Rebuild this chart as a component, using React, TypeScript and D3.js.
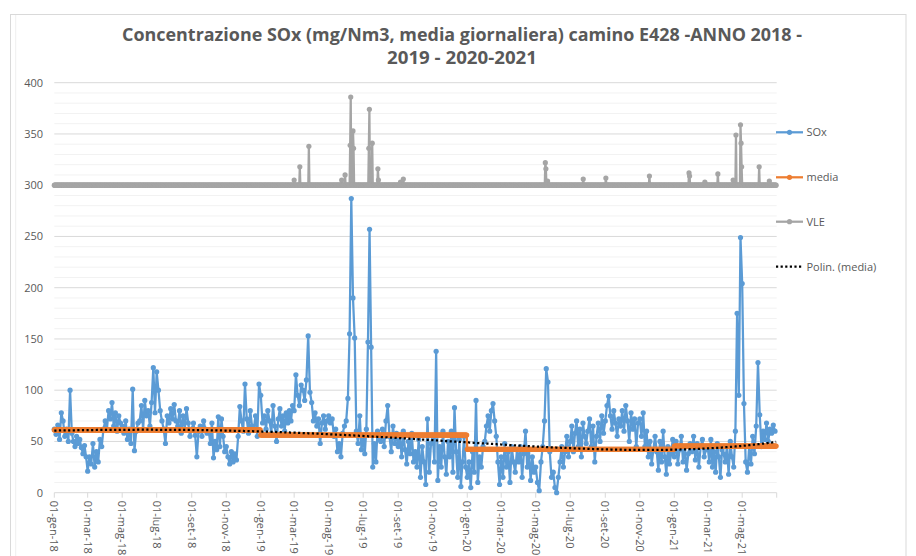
import React from "react";
import * as d3 from "d3";

// ---------------- DATA ----------------
const titleLines = [
  "Concentrazione SOx (mg/Nm3, media giornaliera) camino E428 -ANNO 2018 -",
  "2019 - 2020-2021",
];

const xTickLabels = [
  "01-gen-18", "01-mar-18", "01-mag-18", "01-lug-18", "01-set-18", "01-nov-18",
  "01-gen-19", "01-mar-19", "01-mag-19", "01-lug-19", "01-set-19", "01-nov-19",
  "01-gen-20", "01-mar-20", "01-mag-20", "01-lug-20", "01-set-20", "01-nov-20",
  "01-gen-21", "01-mar-21", "01-mag-21",
];
const yTicks = [0, 50, 100, 150, 200, 250, 300, 350, 400];

const firstDay = "2018-01-01";
const endDay = "2021-07-01";

// SOx daily concentration, sampled ~every 3 days, one row per month from gen-18
const soxByMonth: number[][] = [
  // 2018
  [62, 57, 66, 52, 78, 70, 55, 62, 50, 100],
  [58, 50, 45, 55, 48, 52, 44, 38, 46, 35],
  [21, 35, 28, 48, 25, 40, 30, 52, 45, 62],
  [70, 62, 80, 72, 88, 65, 78, 60, 75, 68],
  [65, 58, 70, 52, 62, 48, 101, 41, 60, 68],
  [70, 85, 62, 90, 75, 80, 65, 88, 122, 78],
  [118, 100, 80, 70, 62, 48, 75, 68, 82, 72],
  [86, 70, 65, 80, 58, 75, 62, 82, 68, 55],
  [62, 68, 56, 35, 60, 65, 55, 70, 62, 58],
  [60, 48, 68, 34, 50, 42, 74, 45, 72, 55, 40],
  [45, 35, 28, 40, 30, 38, 32, 55, 84, 70],
  [60, 106, 72, 58, 80, 65, 62, 75, 55, 106],
  // 2019
  [95, 68, 75, 62, 80, 70, 58, 85, 65, 50],
  [72, 82, 65, 75, 60, 78, 68, 80, 70, 85],
  [80, 115, 95, 85, 105, 100, 90, 110, 153, 98],
  [88, 70, 78, 65, 72, 48, 68, 75, 62, 70],
  [75, 68, 72, 55, 62, 40, 48, 35, 58, 65],
  [70, 92, 155, 287, 190, 151, 60, 48, 75, 42],
  [55, 38, 62, 147, 257, 142, 25, 48, 30, 60, 52],
  [50, 62, 45, 70, 85, 55, 40, 65, 48, 58],
  [45, 55, 35, 60, 42, 28, 50, 38, 58, 30],
  [40, 25, 52, 15, 45, 30, 8, 72, 20, 48],
  [55, 30, 138, 12, 45, 25, 60, 35, 18, 50],
  [35, 60, 20, 83, 40, 15, 52, 6, 30, 55, 25],
  // 2020
  [15, 30, 5, 40, 20, 90, 10, 35, 25, 45],
  [50, 65, 75, 60, 80, 87, 70, 55, 30, 8],
  [35, 15, 48, 25, 40, 10, 45, 30, 20, 42],
  [30, 45, 15, 38, 60, 25, 42, 12, 35, 20],
  [25, 10, 2, 30, 45, 70, 121, 108, 40, 15],
  [20, 5, 0, 15, 30, 45, 25, 40, 55, 35],
  [50, 65, 40, 58, 70, 45, 62, 35, 68, 55, 48],
  [60, 72, 45, 65, 30, 55, 68, 50, 75, 58],
  [70, 85, 94, 75, 62, 80, 68, 55, 72, 65],
  [80, 60, 85, 70, 50, 78, 62, 72, 45, 68],
  [72, 55, 78, 45, 60, 35, 50, 28, 42, 55],
  [40, 22, 50, 30, 60, 35, 18, 45, 28, 38, 52],
  // 2021
  [35, 50, 28, 42, 55, 30, 45, 22, 38, 48],
  [40, 55, 32, 48, 25, 45, 52, 35, 42],
  [45, 30, 52, 25, 40, 20, 48, 35, 15, 42, 38],
  [30, 45, 18, 50, 35, 25, 60, 175, 95, 249],
  [204, 87, 30, 20, 45, 28, 55, 38, 65, 127],
  [76, 45, 60, 52, 68, 50, 62, 58, 66, 60],
];

// VLE: 300 every day, except these days
const vleBase = 300;
const vleSpikeDates = [
  "2019-03-01", "2019-03-11", "2019-03-27", "2019-05-24", "2019-05-30",
  "2019-06-08", "2019-06-09", "2019-06-13", "2019-06-14",
  "2019-07-11", "2019-07-12", "2019-07-17", "2019-07-27", "2019-07-28",
  "2019-09-05", "2019-09-10",
  "2020-05-18", "2020-05-19", "2020-05-22", "2020-07-24", "2020-09-02", "2020-11-18",
  "2021-01-27", "2021-01-28", "2021-02-24", "2021-03-19", "2021-04-15",
  "2021-04-20", "2021-04-28", "2021-04-29", "2021-04-30", "2021-05-31", "2021-06-18",
];
const vleSpikeValues = [
  305, 318, 338, 305, 310,
  339, 386, 353, 336,
  336, 374, 341, 316, 305,
  303, 306,
  322, 316, 304, 306, 307, 309,
  312, 309, 303, 311, 305,
  349, 359, 341, 318, 318, 304,
];

// media: yearly mean
const mediaYears = [2018, 2019, 2020, 2021];
const mediaValues = [61.2, 56.3, 42.3, 45.5];
const trendOrder = 4;

const legendItems = ["SOx", "media", "VLE", "Polin. (media)"];

// ---------------- STYLE ----------------
const W = 916;
const H = 556;
const C_SOX = "#5b9bd5";
const C_MEDIA = "#ed7d31";
const C_VLE = "#a5a5a5";
const C_TEXT = "#595959";
const FONT = "'Open Sans', 'Noto Sans', sans-serif";

function polyFit(xs: number[], ys: number[], order: number): number[] {
  const n = order + 1;
  const A: number[][] = Array.from({ length: n }, () => new Array(n + 1).fill(0));
  for (let k = 0; k < xs.length; k++) {
    const pw: number[] = [];
    let p = 1;
    for (let i = 0; i < 2 * n; i++) {
      pw.push(p);
      p *= xs[k];
    }
    for (let i = 0; i < n; i++) {
      for (let j = 0; j < n; j++) A[i][j] += pw[i + j];
      A[i][n] += pw[i] * ys[k];
    }
  }
  for (let i = 0; i < n; i++) {
    let piv = i;
    for (let r = i + 1; r < n; r++) {
      if (Math.abs(A[r][i]) > Math.abs(A[piv][i])) piv = r;
    }
    const tmp = A[i];
    A[i] = A[piv];
    A[piv] = tmp;
    for (let r = 0; r < n; r++) {
      if (r === i) continue;
      const f = A[r][i] / A[i][i];
      for (let c = i; c <= n; c++) A[r][c] -= f * A[i][c];
    }
  }
  return A.map((row, i) => row[n] / row[i]);
}

export default function App() {
  const parse = d3.utcParse("%Y-%m-%d");
  const start = parse(firstDay)!;
  const end = parse(endDay)!;
  const days = d3.utcDay.range(start, end);

  const x = d3.scaleUtc().domain([start, end]).range([54.3, 776.7]);
  const y = d3.scaleLinear().domain([0, 400]).range([492.7, 82.7]);

  const soxPts = soxByMonth.flatMap((vals, m) => {
    const ms = d3.utcMonth.offset(start, m);
    const me = d3.utcMonth.offset(start, m + 1);
    const span = +me - +ms;
    return vals.map((v, j) => ({ d: new Date(+ms + (span * j) / vals.length), v }));
  });

  const fmt = d3.utcFormat("%Y-%m-%d");
  const spikeMap = new Map(vleSpikeDates.map((s, i) => [s, vleSpikeValues[i]]));
  const vlePts = days.map((d) => ({ d, v: spikeMap.get(fmt(d)) ?? vleBase }));
  const mediaPts = days.map((d) => ({ d, v: mediaValues[mediaYears.indexOf(d.getUTCFullYear())] }));

  const tt = mediaPts.map((_, i) => i / (mediaPts.length - 1));
  const coef = polyFit(tt, mediaPts.map((p) => p.v), trendOrder);
  const trendPts = mediaPts.map((p, i) => ({
    d: p.d,
    v: coef.reduce((s, c, k) => s + c * Math.pow(tt[i], k), 0),
  }));

  const line = d3
    .line<{ d: Date; v: number }>()
    .x((p) => x(p.d))
    .y((p) => y(p.v));

  const minorTicks = d3.range(10, 401, 10).filter((v) => v % 50 !== 0);
  const tickDates = xTickLabels.map((_, i) => d3.utcMonth.offset(start, 2 * i));
  const x0 = x.range()[0];
  const x1 = x.range()[1];
  const legendY = [132.3, 177.3, 221.7, 266.7];
  const legendColors = [C_SOX, C_MEDIA, C_VLE, "#000"];

  return (
    <svg
      width={W}
      height={H}
      style={{ position: "absolute", left: 0, top: 0, background: "#fff" }}
      fontFamily={FONT}
    >
      <rect x={0} y={0} width={W} height={H} fill="#fff" />
      {/* chart frame */}
      <rect x={10.5} y={14.5} width={895.5} height={560} fill="none" stroke="#d9d9d9" />
      <line x1={15.7} x2={15.7} y1={15} y2={H} stroke="#efefef" />

      {/* title */}
      {titleLines.map((t, i) => (
        <text
          key={i}
          x={462}
          y={41 + i * 23}
          textAnchor="middle"
          fontSize={17}
          fontWeight="bold"
          fill={C_TEXT}
          textLength={i === 0 ? 680 : 150}
          lengthAdjust="spacingAndGlyphs"
        >
          {t}
        </text>
      ))}

      {/* gridlines */}
      {minorTicks.map((v) => (
        <line key={"m" + v} x1={x0} x2={x1} y1={y(v)} y2={y(v)} stroke="#f2f2f2" strokeWidth={1} />
      ))}
      {yTicks.filter((v) => v > 0).map((v) => (
        <line key={"g" + v} x1={x0} x2={x1} y1={y(v)} y2={y(v)} stroke="#d9d9d9" strokeWidth={1} />
      ))}

      {/* y labels */}
      {yTicks.map((v) => (
        <text key={"yl" + v} x={43} y={y(v)} dy="0.35em" textAnchor="end" fontSize={11} fill={C_TEXT}>
          {v}
        </text>
      ))}

      {/* x axis */}
      <line x1={x0} x2={x1} y1={y(0)} y2={y(0)} stroke="#d9d9d9" />
      {tickDates.map((d, i) => (
        <line key={"xt" + i} x1={x(d)} x2={x(d)} y1={y(0)} y2={y(0) + 5} stroke="#d9d9d9" />
      ))}
      <line x1={x1} x2={x1} y1={y(0)} y2={y(0) + 5} stroke="#d9d9d9" />
      {tickDates.map((d, i) => (
        <text
          key={"xl" + i}
          transform={`translate(${x(d)},${y(0) + 8}) rotate(90)`}
          dy="0.35em"
          textAnchor="start"
          fontSize={11}
          fill={C_TEXT}
        >
          {xTickLabels[i]}
        </text>
      ))}

      {/* SOx */}
      <path d={line(soxPts)!} fill="none" stroke={C_SOX} strokeWidth={2.25} strokeLinejoin="round" />
      {soxPts.map((p, i) => (
        <circle key={"s" + i} cx={x(p.d)} cy={y(p.v)} r={2.6} fill={C_SOX} />
      ))}

      {/* media */}
      <path d={line(mediaPts)!} fill="none" stroke={C_MEDIA} strokeWidth={2.25} />
      {mediaPts.map((p, i) => (
        <circle key={"md" + i} cx={x(p.d)} cy={y(p.v)} r={2.6} fill={C_MEDIA} />
      ))}

      {/* VLE */}
      <path d={line(vlePts)!} fill="none" stroke={C_VLE} strokeWidth={2.25} />
      {vlePts.map((p, i) => (
        <circle key={"v" + i} cx={x(p.d)} cy={y(p.v)} r={2.6} fill={C_VLE} />
      ))}

      {/* trendline */}
      <path
        d={line(trendPts)!}
        fill="none"
        stroke="#000"
        strokeWidth={2.25}
        strokeDasharray="2.2 2.4"
      />

      {/* legend */}
      {legendItems.map((name, i) => (
        <g key={"lg" + i}>
          <line
            x1={776}
            x2={803}
            y1={legendY[i]}
            y2={legendY[i]}
            stroke={legendColors[i]}
            strokeWidth={2.25}
            strokeDasharray={i === 3 ? "2.2 2.4" : undefined}
          />
          {i < 3 && <circle cx={789.5} cy={legendY[i]} r={2.6} fill={legendColors[i]} />}
          <text x={806.5} y={legendY[i]} dy="0.35em" fontSize={11} fill={C_TEXT}>
            {name}
          </text>
        </g>
      ))}
    </svg>
  );
}
